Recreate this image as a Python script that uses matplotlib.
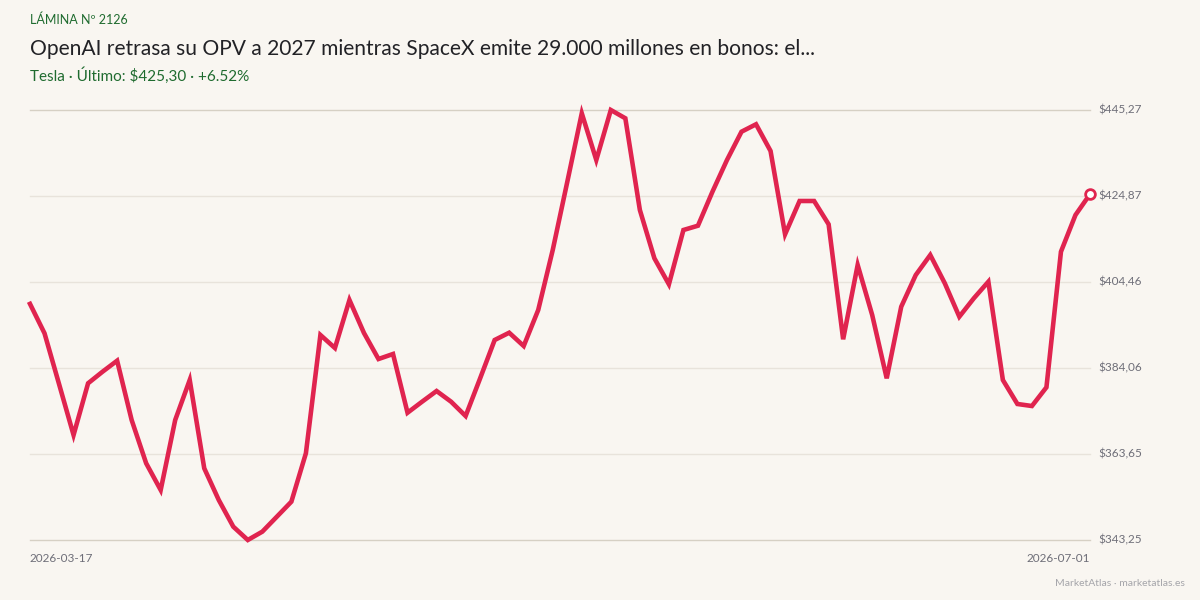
import matplotlib
matplotlib.use("Agg")
import matplotlib.pyplot as plt
import numpy as np

# ---- data ----
start_label = "2026-03-17"
end_label = "2026-07-01"
prices = [
    399.27, 392.29, 380.26, 368.16, 380.43, 383.19, 385.79, 371.72, 361.45, 355.11,
    371.72, 381.21, 360.26, 352.74, 346.41, 343.25, 345.23, 348.78, 352.34, 363.82,
    391.89, 388.80, 400.19, 392.36, 386.19, 387.38, 373.45, 376.06, 378.60, 376.06,
    372.67, 381.61, 390.70, 392.43, 389.28, 397.82, 412.06, 428.19, 444.49, 433.41,
    445.27, 443.30, 421.55, 410.09, 403.92, 416.80, 417.82, 425.89, 433.41, 440.12,
    441.88, 435.55, 415.78, 423.68, 423.68, 418.15, 390.87, 408.50, 396.63, 381.61,
    398.60, 406.12, 410.87, 404.16, 396.23, 400.60, 404.53, 381.21, 375.52, 375.04,
    379.48, 411.65, 420.36, 425.30,
]
kicker = "LÁMINA Nº 2126"
title = "OpenAI retrasa su OPV a 2027 mientras SpaceX emite 29.000 millones en bonos: el..."
subtitle = "Tesla · Último: $425,30 · +6.52%"
footer = "MarketAtlas · marketatlas.es"

# ---- style ----
BG = "#f9f6f1"
LINE = "#e0244f"
GREEN = "#1f6b2f"
GRAY = "#6e6e78"
FONT = ["Lato", "DejaVu Sans"]
plt.rcParams["font.family"] = FONT

fig = plt.figure(figsize=(12, 6), dpi=100, facecolor=BG)
ax = fig.add_axes([30 / 1200, 60 / 600, 1060 / 1200, 430 / 600])
ax.set_facecolor(BG)

x = np.arange(len(prices))
lo, hi = min(prices), max(prices)
ticks = np.linspace(lo, hi, 6)

for i, t in enumerate(ticks):
    c = "#d6d0c4" if i in (0, 5) else "#e8e3db"
    ax.axhline(t, color=c, lw=1.0, zorder=1, clip_on=False)

ax.plot(x, prices, color=LINE, lw=3.3, solid_joinstyle="miter", clip_on=False, zorder=3)
ax.plot([x[-1]], [prices[-1]], marker="o", ms=7, mfc="white", mec=LINE, mew=2,
        clip_on=False, zorder=4)

ax.set_xlim(0, len(prices) - 1)
ax.set_ylim(lo, hi)
for s in ax.spines.values():
    s.set_visible(False)
ax.set_xticks([])
ax.set_yticks([])

for t in ticks:
    lbl = "$" + f"{t:.2f}".replace(".", ",")
    ax.text(1.0075, (t - lo) / (hi - lo), lbl, transform=ax.transAxes,
            ha="left", va="center", fontsize=8.5, color=GRAY)

ax.text(0, -0.03, start_label, transform=ax.transAxes, ha="left", va="top",
        fontsize=8.5, color=GRAY)
ax.text(1, -0.03, end_label, transform=ax.transAxes, ha="right", va="top",
        fontsize=8.5, color=GRAY)

fig.text(30 / 1200, 1 - 20 / 600, kicker, ha="left", va="center", fontsize=9, color=GREEN)
fig.text(30 / 1200, 1 - 49 / 600, title, ha="left", va="center", fontsize=15.1, color="#222226")
fig.text(30 / 1200, 1 - 76 / 600, subtitle, ha="left", va="center", fontsize=11, color=GREEN)
fig.text(1185 / 1200, 1 - 583 / 600, footer, ha="right", va="center", fontsize=7.5,
         color="#a5a5aa")

fig.savefig("out.png", dpi=100, facecolor=BG)
